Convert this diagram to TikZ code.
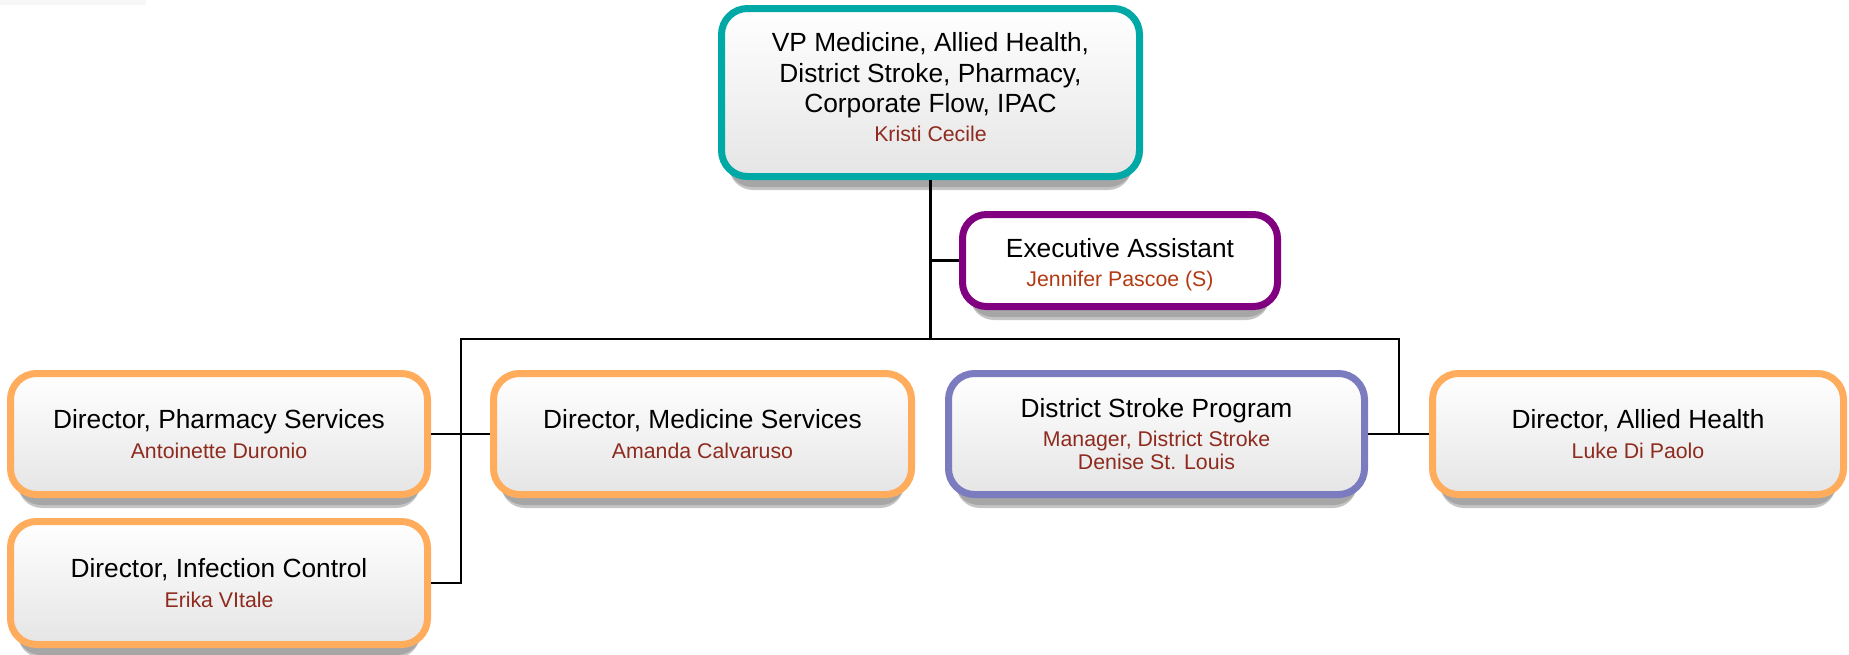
\documentclass[tikz,border=0pt]{standalone}
\usepackage{fontspec}
\setmainfont{Liberation Sans}
\usetikzlibrary{backgrounds,calc}
\definecolor{tealc}{HTML}{00A9A6}
\definecolor{purplec}{HTML}{800080}
\definecolor{orangec}{HTML}{FFAC5C}
\definecolor{strokec}{HTML}{7B7BBF}
\definecolor{namec}{HTML}{8E2A1E}
\definecolor{eanamec}{HTML}{B23A12}
\definecolor{shadowa}{HTML}{C4C4C4}
\definecolor{shadowb}{HTML}{A6A6A6}
\definecolor{boxbot}{HTML}{E5E5E5}
\definecolor{stripc}{HTML}{F7F7F7}
\newcommand{\nm}[1]{{\fontsize{21.3}{24}\selectfont\color{namec}#1}}
\newcommand{\eanm}[1]{{\fontsize{21.3}{24}\selectfont\color{eanamec}#1}}
\tikzset{
  orgbox/.style={rectangle, rounded corners=26pt, line width=7pt, inner sep=0pt,
    align=center, top color=white, bottom color=boxbot,
    font=\fontsize{26.3}{30.5}\selectfont},
  eabox/.style={rectangle, rounded corners=24pt, line width=7pt, inner sep=0pt,
    align=center, fill=white, font=\fontsize{26.3}{30.5}\selectfont},
  link/.style={draw=black, line width=2.4pt},
}
\begin{document}
\begin{tikzpicture}[x=1pt,y=-1pt]
\useasboundingbox (0,0) rectangle (1849,654);

\node[orgbox, draw=tealc, minimum width=418pt, minimum height=168pt] (vp) at (930.5,92.5)
  {VP Medicine, Allied Health,\\ District Stroke, Pharmacy,\\ Corporate Flow, IPAC\\[-2pt] \nm{Kristi Cecile}\rule[-11pt]{0pt}{0pt}};
\node[eabox, draw=purplec, minimum width=315pt, minimum height=92pt] (ea) at (1120,260.5)
  {\rule{0pt}{27pt}Executive Assistant\\[-2pt] \eanm{Jennifer Pascoe (S)}};
\node[orgbox, draw=orangec, minimum width=417pt, minimum height=121pt] (ph) at (219,434)
  {Director, Pharmacy Services\\[-1pt] \nm{Antoinette Duronio}};
\node[orgbox, draw=orangec, minimum width=417pt, minimum height=123pt] (inf) at (219,583)
  {Director, Infection Control\\[-1pt] \nm{Erika VItale}};
\node[orgbox, draw=orangec, minimum width=418pt, minimum height=121pt] (med) at (702.5,434)
  {Director, Medicine Services\\[-1pt] \nm{Amanda Calvaruso}};
\node[orgbox, draw=strokec, minimum width=416pt, minimum height=121pt] (st) at (1156.5,434)
  {District Stroke Program\\[-1pt] \nm{Manager, District Stroke}\\[-7.5pt] \nm{Denise St. Louis}};
\node[orgbox, draw=orangec, minimum width=411pt, minimum height=121pt] (al) at (1638,434)
  {Director, Allied Health\\[-1pt] \nm{Luke Di Paolo}};

\begin{scope}[on background layer]
\fill[stripc] (0,0) rectangle (146,5);
\foreach \n in {vp,ea,ph,inf,med,st,al}{
  \fill[shadowa, rounded corners=24pt] ($(\n.south west)+(11,10)$) rectangle ($(\n.north east)+(-11,10)$);
  \fill[shadowb, rounded corners=24pt] ($(\n.south west)+(10,7)$) rectangle ($(\n.north east)+(-10,7)$);
}
\end{scope}

\coordinate (barL) at (461,339);
\coordinate (barR) at (1399,339);
\draw[link] (vp.south) -- (vp.south |- barL);
\draw[link] (vp.south |- ea.west) -- (ea.west);
\draw[link] (barR |- al.west) -- (barR) -- (barL) -- (barL |- inf.east) -- (inf.east);
\draw[link] (ph.east) -- (med.west);
\draw[link] (st.east) -- (al.west);
\end{tikzpicture}
\end{document}
